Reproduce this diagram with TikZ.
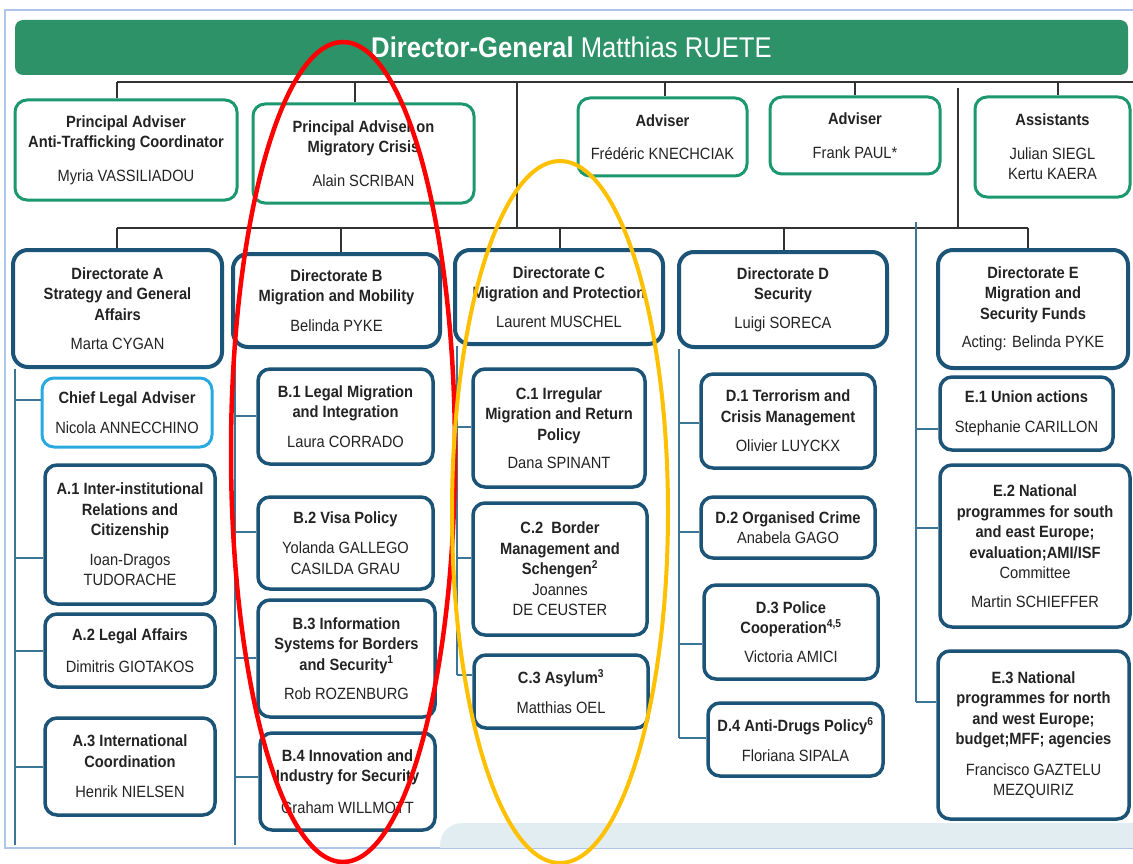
\documentclass[tikz,border=0pt]{standalone}
\usepackage{fontspec}
\setmainfont{Liberation Sans}[FakeStretch=0.9]
\definecolor{dggreen}{RGB}{46,146,104}
\definecolor{gborder}{RGB}{28,152,110}
\definecolor{dblue}{RGB}{28,84,120}
\definecolor{lblue}{RGB}{40,170,225}
\definecolor{busc}{RGB}{60,118,150}
\definecolor{linec}{RGB}{50,50,50}
\definecolor{framec}{RGB}{175,198,235}
\definecolor{bandc}{RGB}{226,237,242}
\definecolor{txt}{RGB}{35,35,35}
\definecolor{ellred}{RGB}{255,0,0}
\definecolor{ellyel}{RGB}{255,192,0}
\newcommand\boxfont{\fontsize{16.3}{20.5}\selectfont}
\begin{document}
\begin{tikzpicture}[x=1pt,y=-1pt,
  basebox/.style={draw, align=center, inner sep=0pt, font=\boxfont, text=txt, fill=white},
  gbox/.style={basebox, draw=gborder, line width=3pt, rounded corners=12pt},
  dirbox/.style={basebox, draw=dblue, line width=4pt, rounded corners=15pt},
  ubox/.style={basebox, draw=dblue, line width=3.5pt, rounded corners=12pt},
  lbox/.style={basebox, draw=lblue, line width=3pt, rounded corners=12pt},
  topline/.style={draw=linec, line width=1.3pt},
  bus/.style={draw=busc, line width=1.6pt},
  sz/.style 2 args={minimum width=#1pt, minimum height=#2pt}
]
\useasboundingbox (0,0) rectangle (1133,864);
\fill[white] (0,0) rectangle (1133,864);
% frame
\draw[framec, line width=1.5pt] (1133,10) -- (5,10) -- (5,848) -- (1133,848);
% bottom band
\begin{scope}
  \clip (0,0) rectangle (1133,847);
  \fill[bandc, rounded corners=22pt] (440,823) rectangle (1200,900);
\end{scope}

% banner
\node[fill=dggreen, rounded corners=8pt, minimum width=1113pt, minimum height=55pt, inner sep=0pt,
      text=white, font=\fontsize{28.5}{30}\selectfont] (dg) at (571.5,47.5)
      {\textbf{Director-General} Matthias RUETE};

% top row
\node[gbox, sz={222}{100}] (myria) at (126,150) {\textbf{Principal Adviser}\\\textbf{Anti-Trafficking Coordinator}\\[13pt]Myria VASSILIADOU};
\node[gbox, sz={221}{99}] (alain) at (363.5,153.5) {\textbf{Principal Adviser on}\\\textbf{Migratory Crisis}\\[13pt]Alain SCRIBAN};
\node[gbox, sz={169}{78}] (fred) at (662.5,137) {\textbf{Adviser}\\[13pt]Frédéric KNECHCIAK};
\node[gbox, sz={170}{77}] (frank) at (855,135.5) {\textbf{Adviser}\\[13pt]Frank PAUL*};
\node[gbox, sz={155}{100}] (assist) at (1052.5,147) {\textbf{Assistants}\\[13pt]Julian SIEGL\\Kertu KAERA};

% directorates
\node[dirbox, sz={209}{117}] (dirA) at (117.5,308.5) {\textbf{Directorate A}\\\textbf{Strategy and General}\\\textbf{Affairs}\\[9pt]Marta CYGAN};
\node[dirbox, sz={207}{93}] (dirB) at (336.5,300.5) {\textbf{Directorate B}\\\textbf{Migration and Mobility}\\[9pt]Belinda PYKE};
\node[dirbox, sz={208}{94}] (dirC) at (559,297) {\textbf{Directorate C}\\\textbf{Migration and Protection}\\[8pt]Laurent MUSCHEL};
\node[dirbox, sz={208}{95}] (dirD) at (783,299.5) {\textbf{Directorate D}\\\textbf{Security}\\[8pt]Luigi SORECA};
\node[dirbox, sz={190}{118}] (dirE) at (1033,309) {\textbf{Directorate E}\\\textbf{Migration and}\\\textbf{Security Funds}\\[8pt]Acting: Belinda PYKE};

% column A
\node[lbox, sz={170}{69}] (cla) at (127,412.5) {\textbf{Chief Legal Adviser}\\[10pt]Nicola ANNECCHINO};
\node[ubox, sz={170}{139}] (a1) at (130,534.5) {\textbf{A.1 Inter-institutional}\\\textbf{Relations and}\\\textbf{Citizenship}\\[9pt]Ioan-Dragos\\TUDORACHE};
\node[ubox, sz={170}{73}] (a2) at (130,650.5) {\textbf{A.2 Legal Affairs}\\[11pt]Dimitris GIOTAKOS};
\node[ubox, sz={170}{97}] (a3) at (130,766.5) {\textbf{A.3 International}\\\textbf{Coordination}\\[10pt]Henrik NIELSEN};

% column B
\node[ubox, sz={175}{95}] (b1) at (345.5,416.5) {\textbf{B.1 Legal Migration}\\\textbf{and Integration}\\[9pt]Laura CORRADO};
\node[ubox, sz={175}{92}] (b2) at (345.5,543) {\textbf{B.2 Visa Policy}\\[10pt]Yolanda GALLEGO\\CASILDA GRAU};
\node[ubox, sz={177}{117}] (b3) at (346.5,658.5) {\textbf{B.3 Information}\\\textbf{Systems for Borders}\\\textbf{and Security\textsuperscript{1}}\\[9pt]Rob ROZENBURG};
\node[ubox, sz={175}{97}] (b4) at (347.5,781.5) {\textbf{B.4 Innovation and}\\\textbf{Industry for Security}\\[11pt]Graham WILLMOTT};

% column C
\node[ubox, sz={172}{118}] (c1) at (559,428) {\textbf{C.1 Irregular}\\\textbf{Migration and Return}\\\textbf{Policy}\\[8pt]Dana SPINANT};
\node[ubox, sz={174}{132}] (c2) at (560,569) {\textbf{C.2~~Border}\\\textbf{Management and}\\\textbf{Schengen\textsuperscript{2}}\\Joannes\\DE CEUSTER};
\node[ubox, sz={174}{73}] (c3) at (561,691.5) {\textbf{C.3 Asylum\textsuperscript{3}}\\[9pt]Matthias OEL};

% column D
\node[ubox, sz={174}{94}] (d1) at (788,421) {\textbf{D.1 Terrorism and}\\\textbf{Crisis Management}\\[9pt]Olivier LUYCKX};
\node[ubox, sz={174}{61}] (d2) at (788,527.5) {\textbf{D.2 Organised Crime}\\Anabela GAGO};
\node[ubox, sz={174}{94}] (d3) at (791,632) {\textbf{D.3 Police}\\\textbf{Cooperation\textsuperscript{4,5}}\\[8pt]Victoria AMICI};
\node[ubox, sz={175}{73}] (d4) at (795.5,739.5) {\textbf{D.4 Anti-Drugs Policy\textsuperscript{6}}\\[9pt]Floriana SIPALA};

% column E
\node[ubox, sz={173}{73}] (e1) at (1026.5,413.5) {\textbf{E.1 Union actions}\\[10pt]Stephanie CARILLON};
\node[ubox, sz={190}{162}] (e2) at (1035,546) {\textbf{E.2 National}\\\textbf{programmes for south}\\\textbf{and east Europe;}\\\textbf{evaluation;AMI/ISF}\\Committee\\[8pt]Martin SCHIEFFER};
\node[ubox, sz={191}{168}] (e3) at (1033.5,735) {\textbf{E.3 National}\\\textbf{programmes for north}\\\textbf{and west Europe;}\\\textbf{budget;MFF; agencies}\\[10pt]Francisco GAZTELU\\MEZQUIRIZ};

% ---- top connectors
\coordinate (h0) at (117,82);
\coordinate (h1) at (1133,82);
\coordinate (t2) at (355,82);
\coordinate (tr) at (517,82);
\coordinate (t4) at (665,82);
\coordinate (t5) at (855,82);
\coordinate (t6) at (1058,82);
\coordinate (v1) at (958,88);
\coordinate (v2) at (958,228);
\coordinate (d0) at (117,228);
\coordinate (dl) at (517,228);
\coordinate (dB) at (341,228);
\coordinate (dC) at (560,228);
\coordinate (dD) at (784,228);
\coordinate (dE) at (1028,228);
\draw[topline] (h0) -- (h1);
\draw[topline] (h0) -- (h0 |- myria.north);
\draw[topline] (t2) -- (t2 |- alain.north);
\draw[topline] (t4) -- (t4 |- fred.north);
\draw[topline] (t5) -- (t5 |- frank.north);
\draw[topline] (t6) -- (t6 |- assist.north);
\draw[topline] (tr) -- (dl);
\draw[topline] (v1) -- (v2);
\draw[topline] (d0) -- (dE);
\draw[topline] (d0) -- (d0 |- dirA.north);
\draw[topline] (dB) -- (dB |- dirB.north);
\draw[topline] (dC) -- (dC |- dirC.north);
\draw[topline] (dD) -- (dD |- dirD.north);
\draw[topline] (dE) -- (dE |- dirE.north);

% ---- buses
\coordinate (ba) at (15,845);
\draw[bus] (ba |- dirA.south) -- (ba);
\draw[bus] (ba |- 0,400) -- (cla.west |- 0,400);
\draw[bus] (ba |- 0,558) -- (a1.west |- 0,558);
\draw[bus] (ba |- 0,651) -- (a2.west |- 0,651);
\draw[bus] (ba |- 0,767) -- (a3.west |- 0,767);

\coordinate (bb) at (235,845);
\draw[bus] (bb |- dirB.south) -- (bb);
\draw[bus] (bb |- 0,416) -- (b1.west |- 0,416);
\draw[bus] (bb |- 0,532) -- (b2.west |- 0,532);
\draw[bus] (bb |- 0,658) -- (b3.west |- 0,658);
\draw[bus] (bb |- 0,777) -- (b4.west |- 0,777);

\coordinate (bc) at (457,675);
\draw[bus] (bc |- dirC.south) -- (bc);
\draw[bus] (bc |- 0,427) -- (c1.west |- 0,427);
\draw[bus] (bc |- 0,558) -- (c2.west |- 0,558);
\draw[bus] (bc) -- (c3.west |- bc);

\coordinate (bd) at (679,738);
\draw[bus] (bd |- dirD.south) -- (bd);
\draw[bus] (bd |- 0,423) -- (d1.west |- 0,423);
\draw[bus] (bd |- 0,532) -- (d2.west |- 0,532);
\draw[bus] (bd |- 0,644) -- (d3.west |- 0,644);
\draw[bus] (bd) -- (d4.west |- bd);

\coordinate (be0) at (916,222);
\coordinate (be) at (916,702);
\draw[bus] (be0) -- (be);
\draw[bus] (be |- 0,429) -- (e1.west |- 0,429);
\draw[bus] (be |- 0,528) -- (e2.west |- 0,528);
\draw[bus] (be) -- (e3.west |- be);

% ---- highlight ellipses
\draw[ellred, line width=4.5pt] (343,452) ellipse [x radius=112pt, y radius=410pt];
\draw[ellyel, line width=4pt] (560,512) ellipse [x radius=108pt, y radius=351pt];
\end{tikzpicture}
\end{document}
